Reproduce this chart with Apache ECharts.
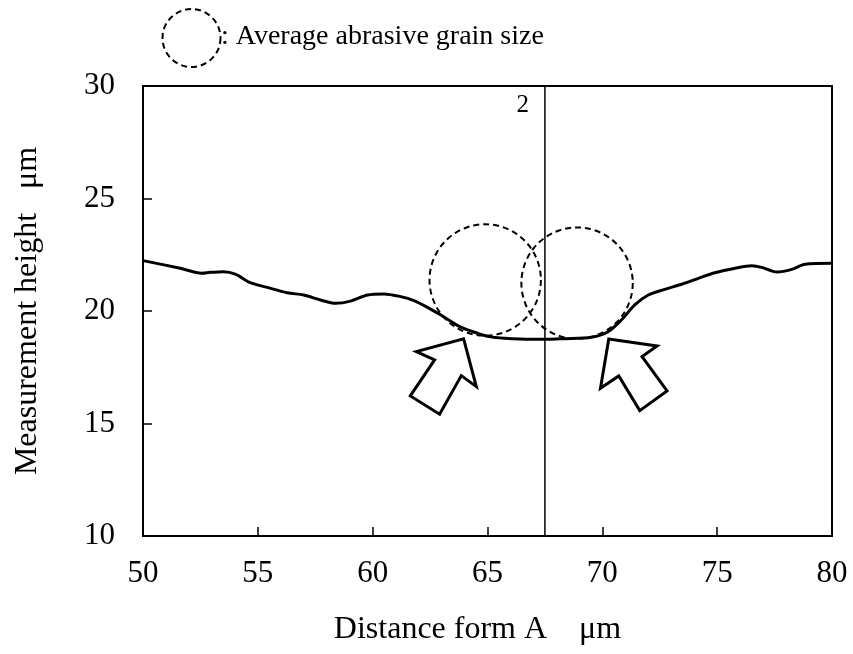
<!DOCTYPE html>
<html>
<head>
<meta charset="utf-8">
<script src="https://cdn.jsdelivr.net/npm/echarts@6/dist/echarts.min.js"></script>
<style>
  html, body { margin: 0; padding: 0; background: #ffffff; }
  #chart { width: 853px; height: 654px; }
</style>
</head>
<body>
<div id="chart"></div>
<script>
// Surface profile across the ground groove
const distance = [50.0, 51.62, 52.56, 52.93, 53.51, 54.02, 54.67, 55.40, 56.28, 57.00,
  57.73, 58.38, 59.04, 59.77, 60.49, 61.22, 61.80, 62.39, 62.97, 63.84,
  64.57, 65.08, 65.73, 66.90, 67.48, 68.35, 69.52, 70.25, 70.83, 71.41,
  72.00, 72.72, 73.45, 74.18, 74.90, 75.78, 76.51, 76.94, 77.60, 78.25,
  78.83, 80.0];
const height = [22.24, 21.90, 21.68, 21.72, 21.75, 21.64, 21.26, 21.05, 20.81, 20.71,
  20.49, 20.34, 20.44, 20.71, 20.76, 20.64, 20.46, 20.16, 19.82, 19.28,
  19.01, 18.86, 18.79, 18.74, 18.74, 18.77, 18.83, 19.08, 19.60, 20.27,
  20.71, 20.96, 21.19, 21.45, 21.70, 21.90, 22.01, 21.94, 21.73, 21.85,
  22.08, 22.12];

// Abrasive grains drawn at the groove flanks (centre x, centre y), µm
const grainCentres = [[64.9, 21.38], [68.9, 21.24]];
const grainDiameter = 4.85;

// Section marker
const sectionX = 67.5;
const sectionLabel = '2';

// Arrow tips pointing at the flank contacts
const arrowTips = [[63.96, 18.76], [70.28, 18.76]];

const xTicks = { min: 50, max: 80, step: 5 };
const yTicks = { min: 10, max: 30, step: 5 };

const FONT = '"Liberation Serif", "Times New Roman", serif';

const profile = distance.map((d, i) => [d, height[i]]);

// Block-arrow outlines, offsets in px relative to the tip
const arrowShapes = [
  [[0, 0], [12.7, 47.7], [-2.3, 36.7], [-24, 75.3], [-53.3, 57], [-29, 21], [-47.3, 12.7]],
  [[0, 0], [48.3, 7], [33.3, 17.7], [58.3, 52], [31, 71.7], [10, 37], [-8.3, 49.3]]
];

const chart = echarts.init(document.getElementById('chart'), null, { renderer: 'canvas' });

chart.setOption({
  animation: false,
  backgroundColor: '#ffffff',
  grid: {
    left: 143, right: 21, top: 86, bottom: 118,
    show: true, borderColor: '#000', borderWidth: 2, backgroundColor: 'transparent'
  },
  xAxis: {
    type: 'value',
    min: xTicks.min, max: xTicks.max, interval: xTicks.step,
    name: 'Distance form A    \u03bcm',
    nameLocation: 'middle',
    nameGap: 78,
    nameTextStyle: { fontFamily: FONT, fontSize: 32, color: '#000', padding: [0, 20, 0, 0] },
    axisLine: { show: true, lineStyle: { color: '#000', width: 2 } },
    axisTick: { show: true, inside: true, length: 9, lineStyle: { color: '#000', width: 1.5 } },
    axisLabel: { fontFamily: FONT, fontSize: 31, color: '#000', margin: 22 },
    splitLine: { show: false }
  },
  yAxis: {
    type: 'value',
    min: yTicks.min, max: yTicks.max, interval: yTicks.step,
    name: 'Measurement height   \u03bcm',
    nameLocation: 'middle',
    nameGap: 99,
    nameTextStyle: { fontFamily: FONT, fontSize: 32, color: '#000' },
    axisLine: { show: true, lineStyle: { color: '#000', width: 2 } },
    axisTick: { show: true, inside: true, length: 9, lineStyle: { color: '#000', width: 1.5 } },
    axisLabel: { fontFamily: FONT, fontSize: 31, color: '#000', margin: 28 },
    splitLine: { show: false }
  },
  graphic: [
    {
      type: 'circle',
      shape: { cx: 191.5, cy: 38, r: 29 },
      style: { fill: 'none', stroke: '#000', lineWidth: 2, lineDash: [6, 4] }
    },
    {
      type: 'text',
      x: 221, y: 37,
      style: { text: ': Average abrasive grain size', font: '28px ' + FONT, fill: '#000', verticalAlign: 'middle' }
    }
  ],
  series: [
    {
      name: 'section',
      type: 'line',
      data: [[sectionX, yTicks.min], [sectionX, yTicks.max]],
      symbol: 'none',
      lineStyle: { color: '#000', width: 1.5 },
      z: 2
    },
    {
      name: 'section label',
      type: 'custom',
      data: [[sectionX, yTicks.max]],
      renderItem: (params, api) => {
        const p = api.coord([api.value(0), api.value(1)]);
        return {
          type: 'text',
          x: p[0] - 16, y: p[1] + 7,
          style: { text: sectionLabel, font: '25px ' + FONT, fill: '#000', align: 'right', verticalAlign: 'top' }
        };
      },
      z: 3
    },
    {
      name: 'profile',
      type: 'line',
      data: profile,
      symbol: 'none',
      smooth: 0.3,
      lineStyle: { color: '#000', width: 3 },
      z: 5
    },
    {
      name: 'grain',
      type: 'custom',
      data: grainCentres,
      renderItem: (params, api) => {
        const c = api.coord([api.value(0), api.value(1)]);
        const r = api.size([grainDiameter / 2, 0])[0];
        return {
          type: 'circle',
          shape: { cx: c[0], cy: c[1], r: r },
          style: { fill: 'none', stroke: '#000', lineWidth: 2, lineDash: [6, 4] }
        };
      },
      z: 4
    },
    {
      name: 'arrows',
      type: 'custom',
      data: arrowTips,
      renderItem: (params, api) => {
        const tip = api.coord([api.value(0), api.value(1)]);
        const pts = arrowShapes[params.dataIndex].map(o => [tip[0] + o[0], tip[1] + o[1]]);
        return {
          type: 'polygon',
          shape: { points: pts },
          style: { fill: '#fff', stroke: '#000', lineWidth: 3, lineJoin: 'miter' }
        };
      },
      z: 6
    }
  ]
});
</script>
</body>
</html>
